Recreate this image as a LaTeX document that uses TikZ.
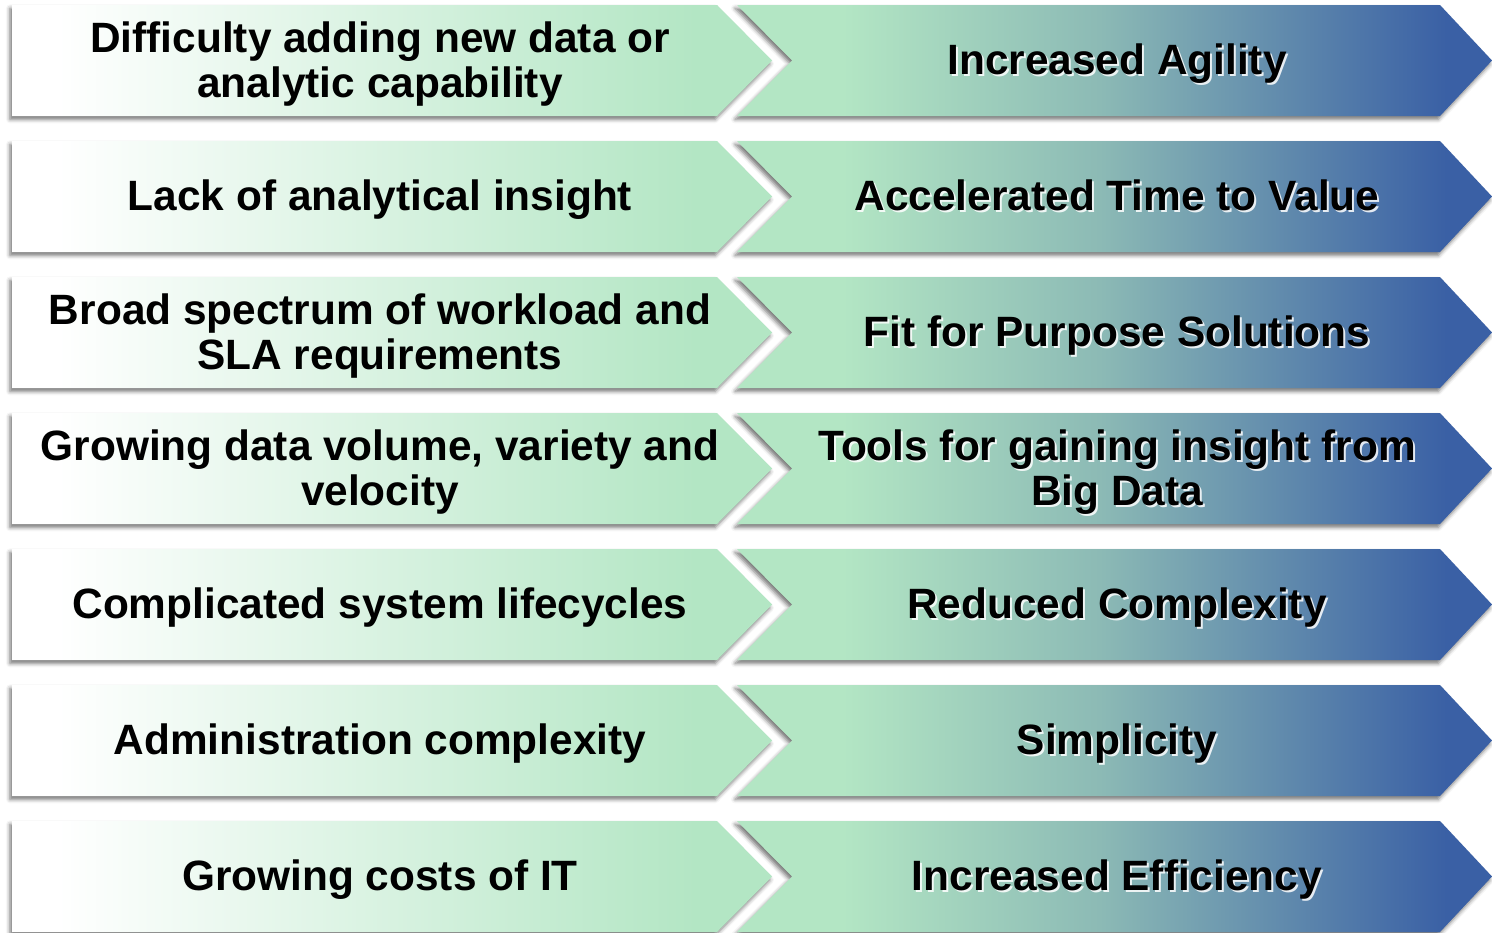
\documentclass[tikz,border=0pt]{standalone}
\usepackage{fontspec}
\setmainfont{Liberation Sans}
\usetikzlibrary{shadows.blur}
\definecolor{mgreen}{HTML}{B3E6C4}
\definecolor{mmid}{HTML}{8CBAB5}
\definecolor{mblue}{HTML}{3A60A5}
\pgfdeclarehorizontalshading{leftsh}{100bp}{color(0bp)=(white); color(28bp)=(white); color(70bp)=(mgreen); color(100bp)=(mgreen)}
\pgfdeclarehorizontalshading{rightsh}{100bp}{color(0bp)=(mgreen); color(32bp)=(mgreen); color(49bp)=(mmid); color(72bp)=(mblue); color(100bp)=(mblue)}
\tikzset{
  sh/.style={blur shadow={shadow xshift=-1.5pt, shadow yshift=-2.5pt, shadow blur radius=3pt, shadow opacity=55}},
  leftbox/.style={sh, shading=leftsh},
  rightbox/.style={sh, shading=rightsh},
  txt/.style={font=\fontsize{31.8pt}{34pt}\selectfont\bfseries, align=center, inner sep=0pt},
  one/.style={text height=0.75em, text depth=0.21em, yshift=-5pt},
  txtshadow/.style={txt, text=white, opacity=0.85},
}
\begin{document}
\begin{tikzpicture}[x=0.75pt,y=-0.75pt]
\useasboundingbox (0,0) rectangle (1492,932);
\foreach \i/\lt/\ls/\rt/\rs in {
  0/{Difficulty adding new data or\\analytic capability}/{}/{Increased Agility}/one,
  1/{Lack of analytical insight}/one/{Accelerated Time to Value}/one,
  2/{Broad spectrum of workload and\\SLA requirements}/{}/{Fit for Purpose Solutions}/one,
  3/{Growing data volume, variety and\\velocity}/{}/{Tools for gaining insight from\\Big Data}/{},
  4/{Complicated system lifecycles}/one/{Reduced Complexity}/one,
  5/{Administration complexity}/one/{Simplicity}/one,
  6/{Growing costs of IT}/one/{Increased Efficiency}/one}{
  \pgfmathsetmacro{\t}{5+136*\i}
  \pgfmathsetmacro{\c}{\t+55.5}
  \pgfmathsetmacro{\b}{\t+111}
  \pgfmathsetmacro{\ty}{\c+3.5}
  \path[leftbox] (12,\t) -- (717,\t) -- (772,\c) -- (717,\b) -- (12,\b) -- cycle;
  \path[rightbox] (737,\t) -- (1440,\t) -- (1492,\c) -- (1440,\b) -- (737,\b) -- (792,\c) -- cycle;
  \node[txt,\ls] (l\i) at (380,\ty) {\lt};
  \node[txtshadow,\rs] (rs\i) at (1119,\ty+1.8) {\rt};
  \node[txt,\rs] (r\i) at (1117,\ty) {\rt};
}
\end{tikzpicture}
\end{document}
